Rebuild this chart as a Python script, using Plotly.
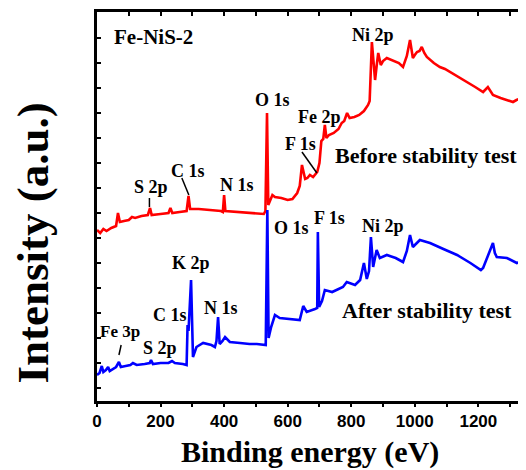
import plotly.graph_objects as go

# ---- data (binding energy in eV, intensity in a.u.) ----
before_be = [0, 10, 20, 30, 45, 60, 66, 72, 85, 100, 110, 120, 140, 160, 167, 172, 200, 225, 231, 237,
             260, 282, 288, 293, 320, 350, 390, 396, 400, 404, 450, 500, 525, 530, 535, 539, 545, 552,
             560, 580, 600, 615, 630, 638, 645, 650, 655, 662, 670, 680, 693, 700, 706, 712, 717, 722,
             730, 745, 760, 770, 778, 787, 795, 810, 825, 840, 853, 858, 865, 870, 875, 880, 885, 893,
             900, 912, 930, 950, 963, 975, 985, 990, 994, 1000, 1007, 1015, 1022, 1030, 1038, 1060,
             1079, 1095, 1111, 1140, 1164, 1190, 1215, 1230, 1246, 1270, 1309, 1320, 1337, 1350]
before_int = [171, 168, 172, 170, 173, 175, 188, 179, 180, 181, 184, 183, 185, 186, 193, 186, 187, 188, 193, 188,
              189, 190, 205, 192, 192, 191, 190, 189, 206, 190, 189, 188, 187, 190, 288, 196, 200, 206,
              204, 203, 201, 202, 208, 215, 236, 228, 222, 223, 226, 224, 229, 238, 260, 262, 276, 263,
              266, 268, 272, 278, 280, 288, 283, 284, 286, 290, 296, 300, 359, 340, 321, 335, 348, 336,
              340, 343, 341, 338, 334, 345, 361, 350, 343, 346, 349, 350, 354, 348, 344, 338,
              334, 332, 329, 324, 319, 314, 309, 314, 306, 303, 299, 301, 303, 308]

after_be = [0, 8, 15, 20, 28, 35, 40, 50, 60, 69, 75, 90, 105, 113, 125, 150, 166, 170, 176, 200, 225, 236,
            245, 270, 282, 285, 288, 296, 302, 313, 334, 360, 371, 376, 381, 386, 395, 403, 418, 450, 480,
            503, 531, 536, 540, 548, 560, 575, 600, 625, 638, 649, 660, 686, 693, 695, 699, 708, 717, 740,
            774, 786, 812, 828, 840, 849, 856, 862, 869, 880, 890, 912, 940, 963, 975, 985, 994, 1016,
            1048, 1090, 1133, 1175, 1208, 1215, 1230, 1246, 1252, 1258, 1290, 1321, 1347]
after_int = [26, 28, 35, 29, 31, 34, 30, 32, 34, 39, 34, 35, 36, 38, 36, 37, 38, 41, 37, 38, 38, 40,
             38, 37, 36, 76, 70, 121, 44, 54, 58, 56, 54, 60, 84, 57, 60, 64, 59, 58, 57,
             57, 56, 191, 63, 74, 86, 83, 82, 81, 81, 95, 89, 92, 93, 169, 94, 100, 111, 109,
             114, 119, 116, 121, 138, 122, 130, 164, 134, 151, 143, 146, 143, 139, 150, 166, 154, 161,
             158, 152, 146, 138, 131, 133, 145, 158, 148, 144, 143, 138, 141]

# peak labels: (text, BE, intensity, font size)
label_text = ["Fe-NiS-2", "S 2p", "C 1s", "N 1s", "O 1s", "F 1s", "Fe 2p", "Ni 2p", "Before stability test",
              "Fe 3p", "S 2p", "C 1s", "K 2p", "N 1s", "O 1s", "F 1s", "Ni 2p", "After stability test"]
label_be = [178, 170, 286, 439, 551, 639, 699, 868, 1034, 72, 197, 230, 296, 390, 612, 733, 901, 1038]
label_int = [364, 214, 230, 216, 301, 257, 284, 366, 246, 70, 53, 86, 138, 93, 173, 183, 175, 91]
label_size = [21, 18, 18, 18, 18, 18, 18, 18, 22, 17, 18, 18, 18, 18, 18, 18, 18, 22]

# leader lines: (BE0, I0, BE1, I1)
leader_be0 = [165, 267, 645, 76]
leader_i0 = [203, 223, 249, 56]
leader_be1 = [165, 289, 692, 69]
leader_i1 = [194, 206, 228, 46]

serif = "Liberation Serif, Times New Roman, serif"
sans = "Liberation Sans, Arial, sans-serif"

fig = go.Figure()
fig.add_trace(go.Scatter(x=before_be, y=before_int, mode="lines",
                         line=dict(color="#ff0000", width=2.6), showlegend=False))
fig.add_trace(go.Scatter(x=after_be, y=after_int, mode="lines",
                         line=dict(color="#0000ff", width=2.6), showlegend=False))
# invisible trace to activate top axis
fig.add_trace(go.Scatter(x=[0], y=[0], xaxis="x2", mode="markers",
                         marker=dict(opacity=0), showlegend=False, hoverinfo="skip"))

for t, bx, iy, s in zip(label_text, label_be, label_int, label_size):
    fig.add_annotation(x=bx, y=iy, xref="x", yref="y", text="<b>%s</b>" % t, showarrow=False,
                       xanchor="center", yanchor="middle",
                       font=dict(family=serif, size=s, color="black"))

for x0, y0, x1, y1 in zip(leader_be0, leader_i0, leader_be1, leader_i1):
    fig.add_shape(type="line", xref="x", yref="y", x0=x0, y0=y0, x1=x1, y1=y1,
                  line=dict(color="black", width=1.5))

fig.add_annotation(x=-0.149, y=0.405, xref="paper", yref="paper", text="<b>Intensity (a.u.)</b>",
                   textangle=-90, showarrow=False, xanchor="center", yanchor="middle",
                   font=dict(family=serif, size=45, color="black"))
fig.add_annotation(x=0.4965, y=-0.131, xref="paper", yref="paper", text="<b>Binding energy (eV)</b>",
                   showarrow=False, xanchor="center", yanchor="middle",
                   font=dict(family=serif, size=30, color="black"))

# page body has an 8px margin: offset the figure so the plot box lands where the reference has it
fig.update_layout(
    width=518, height=462,
    margin=dict(l=89, r=0, t=4, b=69),
    plot_bgcolor="white", paper_bgcolor="white",
    xaxis=dict(range=[0, 1350], showline=True, linecolor="black", linewidth=2.5,
               ticks="outside", ticklen=3, tickwidth=2, tickcolor="black", dtick=200, tick0=0,
               minor=dict(ticks="outside", ticklen=3, tickwidth=2, dtick=100, tickcolor="black"),
               showgrid=False, zeroline=False,
               tickfont=dict(family=sans, size=17, color="black", weight="bold")),
    xaxis2=dict(range=[0, 1350], overlaying="x", side="top", showline=True, linecolor="black",
                linewidth=2.5, ticks="inside", ticklen=4, tickwidth=1.5, tickcolor="black", dtick=100,
                showticklabels=False, showgrid=False, zeroline=False),
    yaxis=dict(range=[0, 389], showline=True, linecolor="black", linewidth=2.5,
               ticks="inside", ticklen=4, tickwidth=1.5, tickcolor="black", tick0=13, dtick=25,
               showticklabels=False, showgrid=False, zeroline=False),
)

fig.write_html("out.html")
